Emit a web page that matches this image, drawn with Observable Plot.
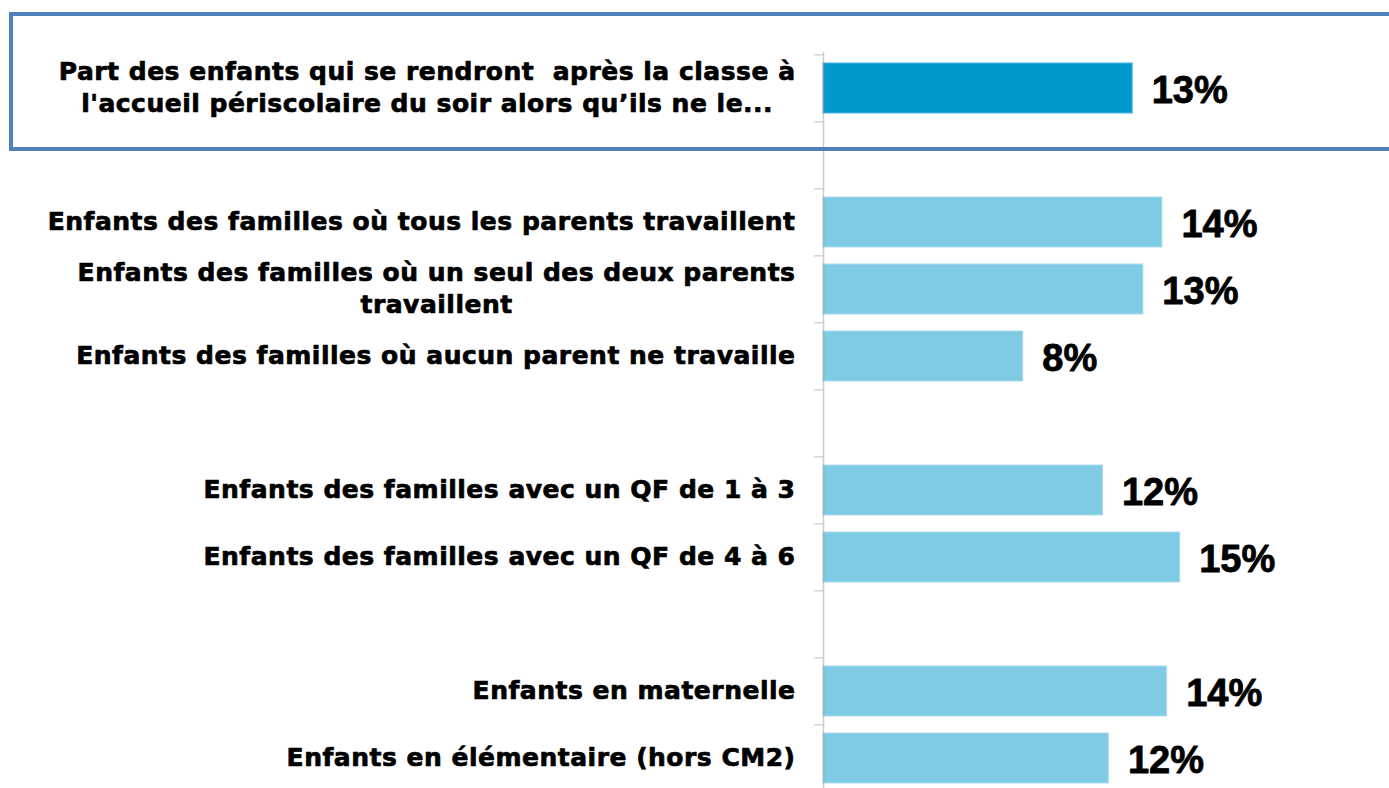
<!DOCTYPE html>
<html><head><meta charset="utf-8">
<script src="https://cdn.jsdelivr.net/npm/d3@7"></script>
<script src="https://cdn.jsdelivr.net/npm/@observablehq/plot@0.6"></script>
<style>
html,body{margin:0;padding:0;background:#fff;overflow:hidden}
#wrap{position:relative;width:1389px;height:788px}
#box{position:absolute;left:9px;top:12px;width:1420px;height:131px;border:4.5px solid #4F81BD;pointer-events:none}
.catlabel text{letter-spacing:0.5px}
</style></head><body><div id="wrap"><div id="box"></div></div>
<script>
// ---- data ----
const categories = [
  "Part des enfants qui se rendront  après la classe à\nl'accueil périscolaire du soir alors qu’ils ne le...",
  "Enfants des familles où tous les parents travaillent",
  "Enfants des familles où un seul des deux parents\ntravaillent",
  "Enfants des familles où aucun parent ne travaille",
  "Enfants des familles avec un QF de 1 à 3",
  "Enfants des familles avec un QF de 4 à 6",
  "Enfants en maternelle",
  "Enfants en élémentaire (hors CM2)"
];
const values = [13.0, 14.25, 13.45, 8.4, 11.75, 15.0, 14.45, 12.0];
const valueLabels = ["13%", "14%", "13%", "8%", "12%", "15%", "14%", "12%"];
const highlighted = [true, false, false, false, false, false, false, false];
// row order, with empty separator rows between groups
const rowOrder = [
  categories[0], "_gap1",
  categories[1], categories[2], categories[3], "_gap2",
  categories[4], categories[5], "_gap3",
  categories[6], categories[7]
];

// ---- layout ----
const W = 1389, H = 788;
const yTop = 52.5, yBottom = 793;
const step = (yBottom - yTop) / rowOrder.length;
const labelFont = "'DejaVu Sans', sans-serif";
const labelSize = 25;
const letterSp = 0.5;
const labelGap = 28;

const data = categories.map((c, i) => ({cat: c, value: values[i], label: valueLabels[i], hi: highlighted[i]}));

const ctx = document.createElement("canvas").getContext("2d");
ctx.font = `bold ${labelSize}px ${labelFont}`;
const labelMarks = categories.map(c => {
  const w = d3.max(c.split("\n"), l => ctx.measureText(l).width + letterSp * l.length);
  return Plot.text([c], {
    x: () => 0, y: d => d, text: d => d,
    textAnchor: "middle", lineAnchor: "middle", lineHeight: 1.28,
    dx: -(labelGap + w / 2), dy: -3,
    fontSize: labelSize, fontWeight: "bold", fontFamily: labelFont, fill: "#000",
    stroke: "#000", strokeWidth: 0.7, className: "catlabel"
  });
});

const chart = Plot.plot({
  width: W, height: H,
  marginTop: 0, marginBottom: 0, marginLeft: 0, marginRight: 0,
  x: {domain: [0, 23.8], range: [823, W], axis: null},
  y: {domain: rowOrder, range: [yTop, yBottom], paddingInner: 0.25, paddingOuter: 0.125, axis: null},
  marks: [
    Plot.barX(data.filter(d => !d.hi), {x: "value", y: "cat", fill: "#7FCBE4", stroke: "#A9DCEE", strokeWidth: 1}),
    Plot.barX(data.filter(d => d.hi), {x: "value", y: "cat", fill: "#0099CC", stroke: "#4DB8E0", strokeWidth: 1}),
    Plot.ruleX([0], {insetTop: yTop, stroke: "#9a9a9a", strokeWidth: 1.5, strokeDasharray: "1,1"}),
    Plot.ruleY(rowOrder, {y: d => d, x1: -0.36, x2: 0, dy: -step / 2, stroke: "#9a9a9a", strokeWidth: 1.2, strokeDasharray: "1,1"}),
    Plot.text(data, {x: "value", y: "cat", text: "label", textAnchor: "start", dx: 19, dy: 2,
      fontSize: 38, fontWeight: "bold", fontFamily: "'Liberation Sans', Arial, sans-serif", fill: "#000",
      stroke: "#000", strokeWidth: 0.8}),
    ...labelMarks
  ]
});
document.getElementById("wrap").prepend(chart);
</script>
</body></html>
